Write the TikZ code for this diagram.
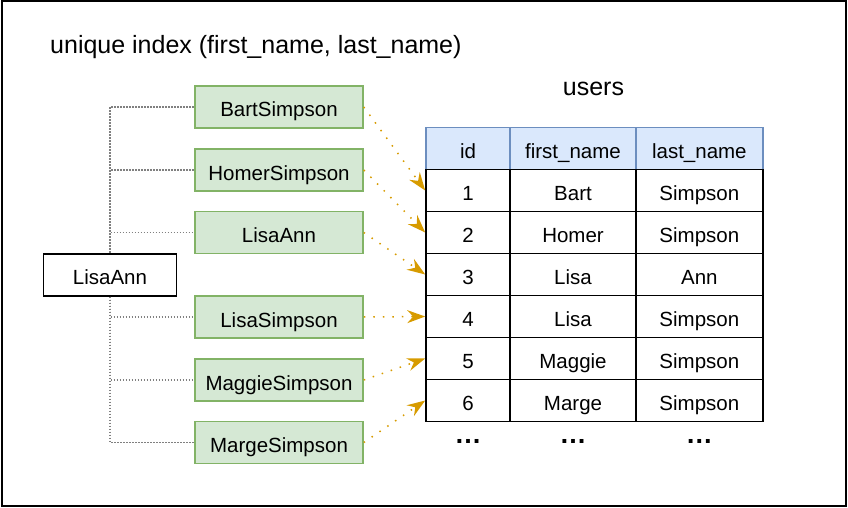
\documentclass[tikz,border=0pt]{standalone}
\usepackage{fontspec}
\setmainfont{Liberation Sans}
\usetikzlibrary{arrows.meta}
\definecolor{keyfill}{HTML}{D5E8D4}
\definecolor{keyline}{HTML}{82B366}
\definecolor{headfill}{HTML}{DAE8FC}
\definecolor{headline}{HTML}{6C8EBF}
\definecolor{hitline}{HTML}{D79B00}
\definecolor{branchline}{HTML}{808080}
\begin{document}
\begin{tikzpicture}[x=1pt,y=-1pt,
 txt/.style={font=\fontsize{20.5}{24}\selectfont,inner sep=0pt,text height=22pt,text depth=2pt},
 key/.style={txt,draw=keyline,fill=keyfill,line width=1.5pt,minimum width=168pt,minimum height=42pt},
 root/.style={txt,draw=black,line width=1.6pt,minimum width=133pt,minimum height=42pt},
 head/.style={txt,draw=headline,fill=headfill,line width=1.6pt,minimum height=42pt},
 cell/.style={txt,draw=black,line width=1.6pt,minimum height=42pt},
 branch/.style={draw=branchline,line width=1.3pt,dash pattern=on 1.5pt off 1.5pt},
 hit/.style={draw=hitline,line width=1.5pt,dash pattern=on 1.5pt off 8pt,-{Stealth[length=18pt,width=13pt,inset=6pt]}}]
 \useasboundingbox (0,0) rectangle (848,508);
 \draw[line width=2pt] (1.5,1.5) rectangle (846,506);
 \node[anchor=base west,inner sep=0pt,font=\fontsize{25}{30}\selectfont] (title) at (50,54) {unique index (first\_name, last\_name)};
 \node[anchor=base,inner sep=0pt,font=\fontsize{25}{30}\selectfont] (users) at (593.5,95.7) {users};
 \node[head,minimum width=84pt] (hid) at (468,148.5) {id};
 \node[head,minimum width=126pt] (hfn) at (573,148.5) {first\_name};
 \node[head,minimum width=126.7pt] (hln) at (699.35,148.5) {last\_name};
 \foreach \n/\f/\l [count=\r] in {1/Bart/Simpson,2/Homer/Simpson,3/Lisa/Ann,4/Lisa/Simpson,5/Maggie/Simpson,6/Marge/Simpson} {
  \node[cell,minimum width=84pt] (id\r) at (468,148.5+42*\r) {\n};
  \node[cell,minimum width=126pt] (fn\r) at (573,148.5+42*\r) {\f};
  \node[cell,minimum width=126.7pt] (ln\r) at (699.35,148.5+42*\r) {\l};
 }
 \foreach \x/\c in {468/a,573/b,699.35/c}
  \node[anchor=base,inner sep=0pt,font=\fontsize{27}{30}\selectfont\bfseries] (more\c) at (\x,443.5) {…};
 \foreach \k/\y [count=\r] in {BartSimpson/107,HomerSimpson/170,LisaAnn/232.5,LisaSimpson/317,MaggieSimpson/380,MargeSimpson/442.5}
  \node[key] (key\r) at (279,\y) {\k};
 \node[root] (root) at (110,274.75) {LisaAnn};
 \foreach \r in {1,2,3}
  \draw[branch] (root.north) |- (key\r.west);
 \foreach \r in {4,5,6}
  \draw[branch] (root.south) |- (key\r.west);
 \foreach \r in {1,...,6}
  \draw[hit] (key\r.east) -- (id\r.west);
\end{tikzpicture}
\end{document}
